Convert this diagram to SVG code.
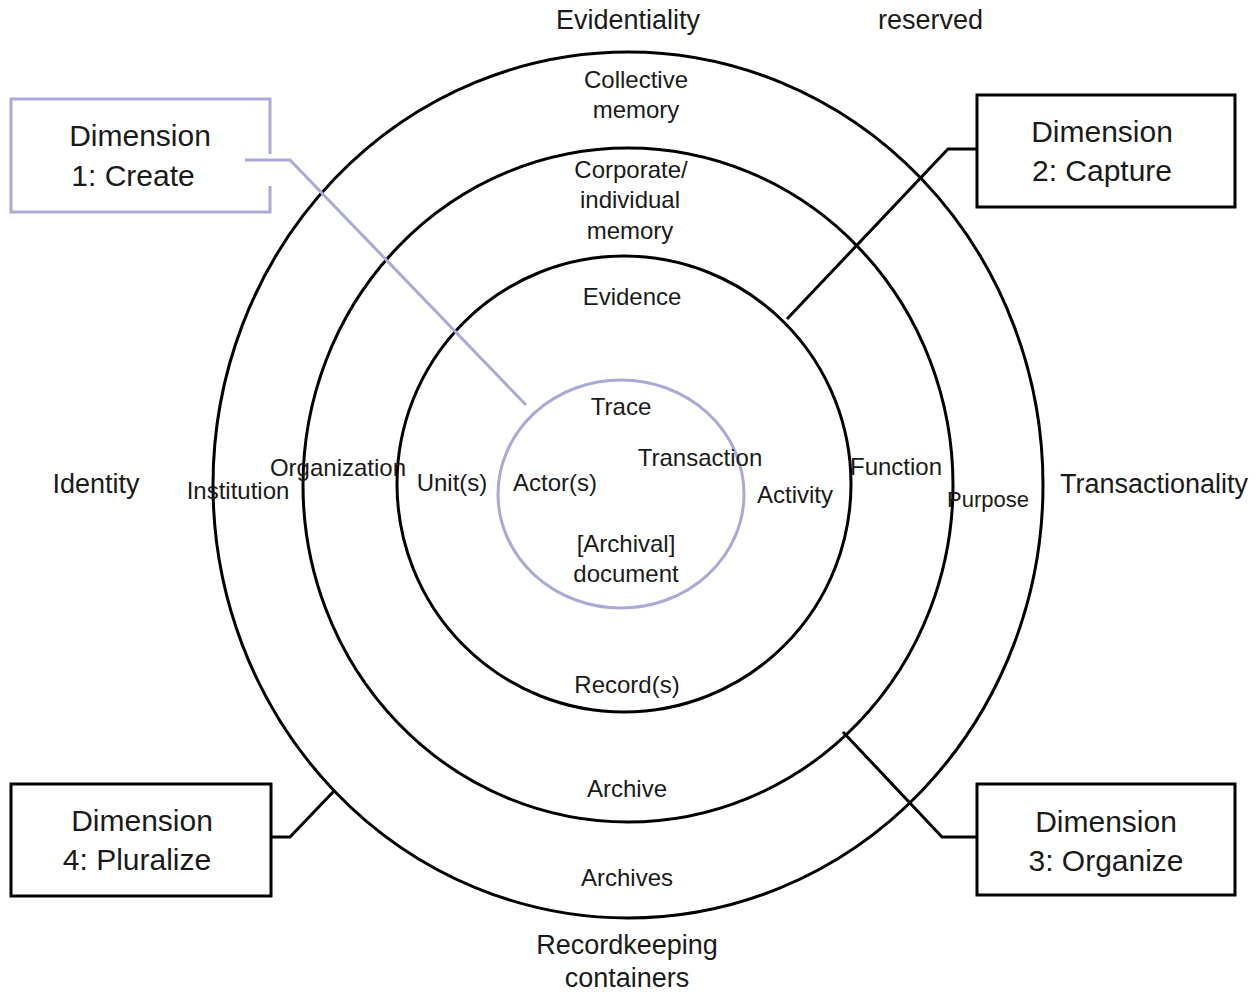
<svg xmlns="http://www.w3.org/2000/svg" width="1258" height="994" viewBox="0 0 1258 994">
<style>
.ring{fill:none;stroke:#000;stroke-width:3}
.lav{fill:none;stroke:#aaaad8;stroke-width:3}
.box{fill:#fff;stroke:#000;stroke-width:3}
.con{fill:none;stroke:#000;stroke-width:3}
text{font-family:"Liberation Sans",Arial,sans-serif;fill:#1a1a1a;text-anchor:middle}
.lg{font-size:27px}
.md{font-size:24px}
.dim{font-size:30px}
</style>
<rect width="1258" height="994" fill="#fff"/>
<g id="rings">
<ellipse id="ring-archives" class="ring" cx="628" cy="485" rx="415" ry="433"/>
<ellipse id="ring-archive" class="ring" cx="628" cy="485" rx="325" ry="337"/>
<ellipse id="ring-records" class="ring" cx="624" cy="484" rx="227" ry="228"/>
<ellipse id="ring-document" class="lav" cx="621" cy="494" rx="123" ry="114"/>
</g>
<g id="connectors">
<path class="lav" d="M245,160 H290 L526,405"/>
<path class="con" d="M977,149 H948 L787,319"/>
<path class="con" d="M843,732 L942,837 H977"/>
<path class="con" d="M271,837 H290 L335,790"/>
</g>
<g id="dim1">
<path class="lav" d="M270,154 V99 H11 V212 H270 V186" fill="#fff"/>
<text class="dim" x="140" y="146">Dimension</text>
<text class="dim" x="133" y="186">1: Create</text>
</g>
<g id="dim2">
<rect class="box" x="977" y="95" width="258" height="112"/>
<text class="dim" x="1102" y="142">Dimension</text>
<text class="dim" x="1102" y="181">2: Capture</text>
</g>
<g id="dim3">
<rect class="box" x="977" y="784" width="258" height="111"/>
<text class="dim" x="1106" y="832">Dimension</text>
<text class="dim" x="1106" y="871">3: Organize</text>
</g>
<g id="dim4">
<rect class="box" x="11" y="784" width="260" height="112"/>
<text class="dim" x="142" y="831">Dimension</text>
<text class="dim" x="137" y="870">4: Pluralize</text>
</g>
<g id="labels">
<text class="lg" x="628" y="29">Evidentiality</text>
<text class="lg" x="878" y="29" text-anchor="start" style="text-anchor:start">reserved</text>
<text class="md" x="636" y="88">Collective</text>
<text class="md" x="636" y="118">memory</text>
<text class="md" x="631" y="178">Corporate/</text>
<text class="md" x="630" y="208">individual</text>
<text class="md" x="630" y="239">memory</text>
<text class="md" x="632" y="305">Evidence</text>
<text class="md" x="621" y="415">Trace</text>
<text class="md" x="700" y="466">Transaction</text>
<text class="lg" x="96" y="493">Identity</text>
<text class="md" x="238" y="499">Institution</text>
<text class="md" x="338" y="476">Organization</text>
<text class="md" x="452" y="491">Unit(s)</text>
<text class="md" x="555" y="491">Actor(s)</text>
<text class="md" x="795" y="503">Activity</text>
<text class="md" x="896" y="475">Function</text>
<text x="988" y="507" style="font-size:22px">Purpose</text>
<text class="lg" x="1154" y="493">Transactionality</text>
<text class="md" x="626" y="552">[Archival]</text>
<text class="md" x="626" y="582">document</text>
<text class="md" x="627" y="693">Record(s)</text>
<text class="md" x="627" y="797">Archive</text>
<text class="md" x="627" y="886">Archives</text>
<text class="lg" x="627" y="954">Recordkeeping</text>
<text class="lg" x="627" y="987">containers</text>
</g>
</svg>
